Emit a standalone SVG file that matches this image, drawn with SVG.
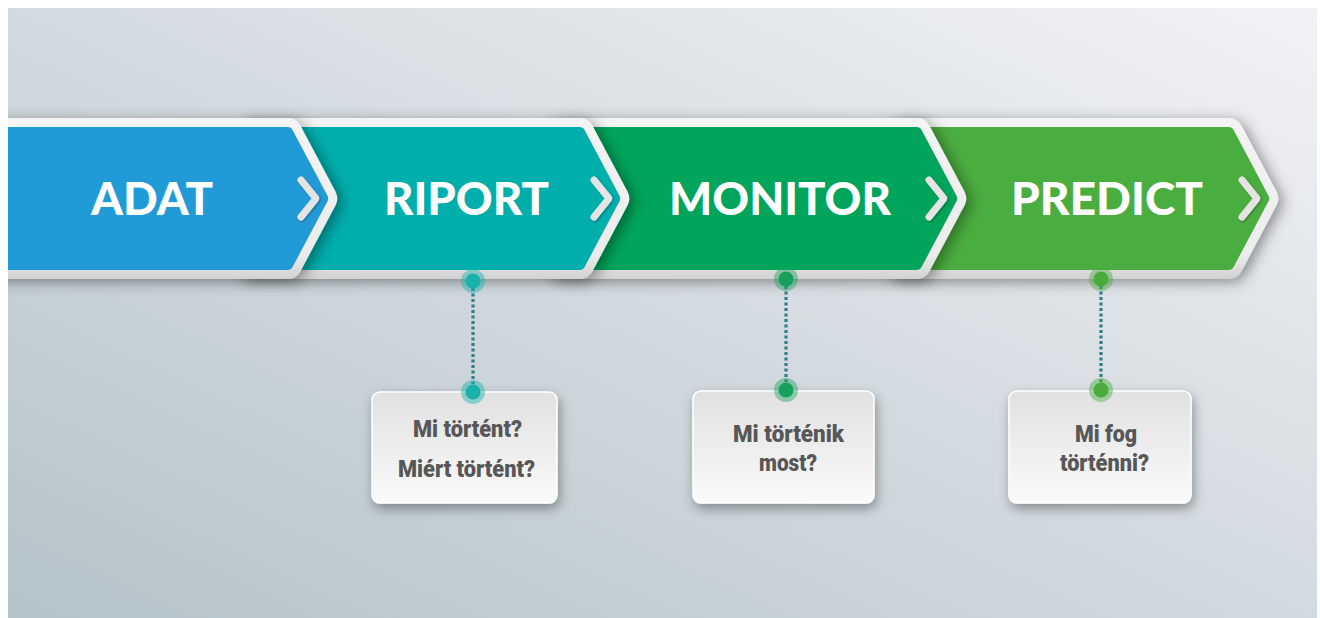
<svg xmlns="http://www.w3.org/2000/svg" width="1320" height="618" viewBox="0 0 1320 618">
<defs>
  <linearGradient id="bg" x1="0" y1="1" x2="1" y2="0">
    <stop offset="0" stop-color="#b3c3c9"/>
    <stop offset="0.5" stop-color="#d3dadf"/>
    <stop offset="1" stop-color="#f1f2f6"/>
  </linearGradient>
  <linearGradient id="rim" gradientUnits="userSpaceOnUse" x1="0" y1="118" x2="0" y2="279">
    <stop offset="0" stop-color="#f4f4f4"/>
    <stop offset="0.85" stop-color="#ececec"/>
    <stop offset="1" stop-color="#d2d2d2"/>
  </linearGradient>
  <linearGradient id="box" x1="0" y1="0" x2="0" y2="1">
    <stop offset="0" stop-color="#e1e1e1"/>
    <stop offset="1" stop-color="#fafafa"/>
  </linearGradient>
  <filter id="sh" x="-10%" y="-30%" width="130%" height="160%">
    <feDropShadow dx="4" dy="3" stdDeviation="7" flood-color="#000" flood-opacity="0.4"/>
  </filter>
  <filter id="shSmall" x="-50%" y="-50%" width="200%" height="200%">
    <feDropShadow dx="1" dy="1" stdDeviation="1.2" flood-color="#000" flood-opacity="0.35"/>
  </filter>
  <filter id="shBox" x="-20%" y="-20%" width="140%" height="150%">
    <feDropShadow dx="2" dy="5" stdDeviation="6" flood-color="#000" flood-opacity="0.35"/>
  </filter>
  <clipPath id="frame"><rect x="8" y="8" width="1309" height="610"/></clipPath>
  <style>
    .rim { fill: url(#rim); stroke: url(#rim); stroke-width: 30; stroke-linejoin: round; filter: url(#sh); }
    .body { stroke-width: 12; stroke-linejoin: round; }
    .mark { fill: none; stroke: #e4e4e4; stroke-width: 7; stroke-linecap: round; stroke-linejoin: round; filter: url(#shSmall); }
    .head { font-family: Lato, "Open Sans", "Liberation Sans", sans-serif; font-weight: 900; font-size: 46px; fill: #ffffff; text-anchor: middle; }
    .boxr { fill: url(#box); stroke: #ffffff; stroke-width: 1.5; filter: url(#shBox); }
    .q { font-family: Roboto, "DejaVu Sans", "Liberation Sans", sans-serif; font-weight: 900; font-size: 24px; fill: #575757; text-anchor: middle; }
    .dl { stroke: #2f7d86; stroke-width: 3.2; stroke-dasharray: 3 2.5; fill: none; }
  </style>
</defs>
<g clip-path="url(#frame)">
  <rect x="8" y="8" width="1309" height="610" fill="url(#bg)"/>

  <g id="node-predict">
    <path class="rim" d="M 900 133 H 1228.4 L 1263.2 198.5 L 1228.4 264 H 900 Z"/>
    <path class="body" fill="#4aad3f" stroke="#4aad3f" d="M 900 133 H 1228.4 L 1263.2 198.5 L 1228.4 264 H 900 Z"/>
    <polyline class="mark" points="1242,180 1257,198.5 1242,217"/>
    <text class="head" x="1107" y="215" textLength="192" lengthAdjust="spacingAndGlyphs">PREDICT</text>
  </g>

  <g id="node-monitor">
    <path class="rim" d="M 560 133 H 916.4 L 951.2 198.5 L 916.4 264 H 560 Z"/>
    <path class="body" fill="#00a45a" stroke="#00a45a" d="M 560 133 H 916.4 L 951.2 198.5 L 916.4 264 H 560 Z"/>
    <polyline class="mark" points="929,180 944,198.5 929,217"/>
    <text class="head" x="780" y="215" textLength="222" lengthAdjust="spacingAndGlyphs">MONITOR</text>
  </g>

  <g id="node-riport">
    <path class="rim" d="M 250 133 H 579.4 L 614.2 198.5 L 579.4 264 H 250 Z"/>
    <path class="body" fill="#00aeac" stroke="#00aeac" d="M 250 133 H 579.4 L 614.2 198.5 L 579.4 264 H 250 Z"/>
    <polyline class="mark" points="594,180 609,198.5 594,217"/>
    <text class="head" x="466.5" y="215" textLength="165" lengthAdjust="spacingAndGlyphs">RIPORT</text>
  </g>

  <g id="node-adat">
    <path class="rim" d="M -30 133 H 287.4 L 322.2 198.5 L 287.4 264 H -30 Z"/>
    <path class="body" fill="#219bd8" stroke="#219bd8" d="M -30 133 H 287.4 L 322.2 198.5 L 287.4 264 H -30 Z"/>
    <polyline class="mark" points="301,180 316,198.5 301,217"/>
    <text class="head" x="152" y="215" textLength="122" lengthAdjust="spacingAndGlyphs">ADAT</text>
  </g>

  <g id="box-riport">
    <rect class="boxr" x="372" y="392" width="185" height="111" rx="8"/>
    <text class="q" x="467.5" y="437" textLength="109" lengthAdjust="spacingAndGlyphs">Mi történt?</text>
    <text class="q" x="466.5" y="477" textLength="137" lengthAdjust="spacingAndGlyphs">Miért történt?</text>
  </g>

  <g id="box-monitor">
    <rect class="boxr" x="693" y="391" width="181" height="112" rx="8"/>
    <text class="q" x="788.5" y="442" textLength="111" lengthAdjust="spacingAndGlyphs">Mi történik</text>
    <text class="q" x="788" y="471" textLength="58" lengthAdjust="spacingAndGlyphs">most?</text>
  </g>

  <g id="box-predict">
    <rect class="boxr" x="1009" y="391" width="182" height="112" rx="8"/>
    <text class="q" x="1106" y="442" textLength="62" lengthAdjust="spacingAndGlyphs">Mi fog</text>
    <text class="q" x="1104.5" y="471" textLength="89" lengthAdjust="spacingAndGlyphs">történni?</text>
  </g>

  <g id="connectors">
    <line class="dl" x1="473" y1="288" x2="473" y2="384"/>
    <line class="dl" x1="786" y1="286" x2="786" y2="382"/>
    <line class="dl" x1="1101" y1="286" x2="1101" y2="382"/>
    <circle cx="473" cy="281" r="12" fill="#1cb3ad" fill-opacity="0.45"/>
    <circle cx="473" cy="281" r="7.5" fill="#1ab1aa"/>
    <circle cx="473" cy="392" r="12" fill="#1cb3ad" fill-opacity="0.45"/>
    <circle cx="473" cy="392" r="7.5" fill="#1ab1aa"/>
    <circle cx="786" cy="279" r="12" fill="#1ea462" fill-opacity="0.45"/>
    <circle cx="786" cy="279" r="7.5" fill="#16a05c"/>
    <circle cx="786" cy="390" r="12" fill="#1ea462" fill-opacity="0.45"/>
    <circle cx="786" cy="390" r="7.5" fill="#16a05c"/>
    <circle cx="1101" cy="279" r="12" fill="#4aad3f" fill-opacity="0.45"/>
    <circle cx="1101" cy="279" r="7.5" fill="#48ab3c"/>
    <circle cx="1101" cy="390" r="12" fill="#4aad3f" fill-opacity="0.45"/>
    <circle cx="1101" cy="390" r="7.5" fill="#48ab3c"/>
  </g>
</g>
</svg>
